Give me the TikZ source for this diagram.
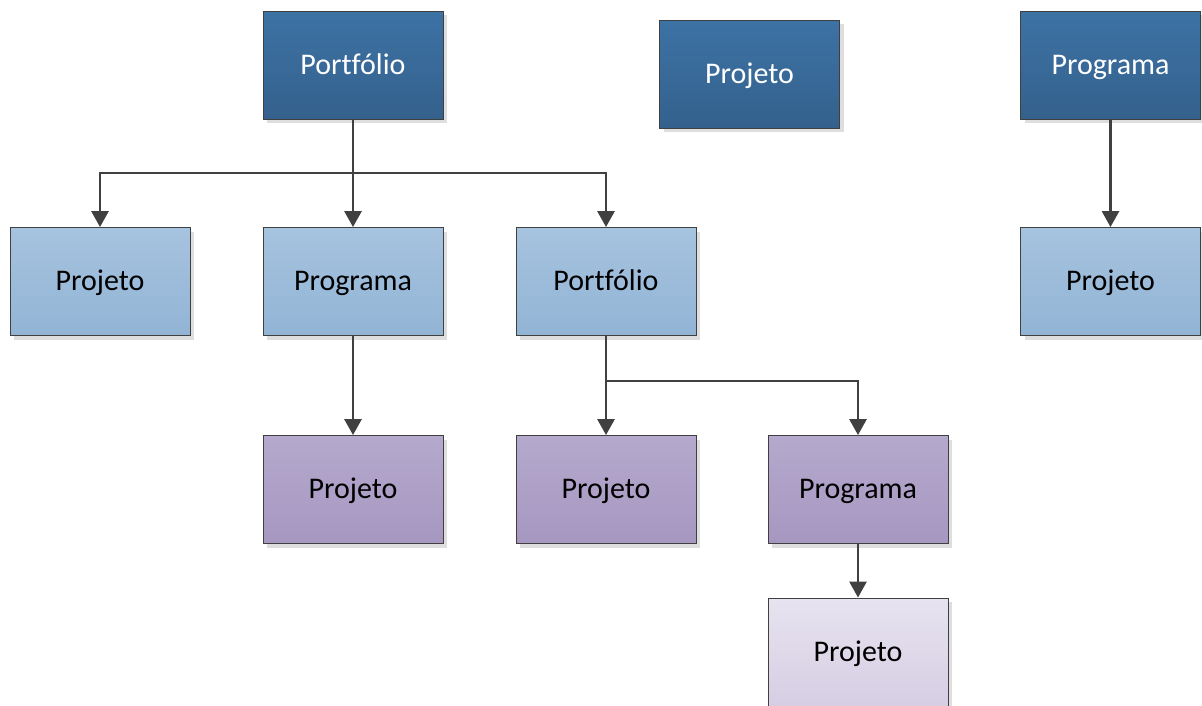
\documentclass[tikz,border=0pt]{standalone}
\usepackage{fontspec}
\setmainfont{Carlito}[Ligatures={NoCommon}]
\usetikzlibrary{arrows.meta,shadows}
\definecolor{edge}{HTML}{404040}
\definecolor{darkA}{HTML}{3D72A5}
\definecolor{darkB}{HTML}{34618C}
\definecolor{lightA}{HTML}{A6C3DF}
\definecolor{lightB}{HTML}{92B4D5}
\definecolor{purpA}{HTML}{B5A9CD}
\definecolor{purpB}{HTML}{A697C0}
\definecolor{paleA}{HTML}{E7E3F0}
\definecolor{paleB}{HTML}{D6CEE3}
\tikzset{
  box/.style={draw=edge, line width=0.9pt, minimum width=180pt, minimum height=108pt,
    inner sep=0pt, font=\fontsize{30}{36}\selectfont, text height=22pt, text depth=4pt,
    drop shadow={shadow xshift=4pt, shadow yshift=-4pt, fill=black!13, opacity=1}},
  lvlA/.style={box, top color=darkA, bottom color=darkB, text=white},
  lvlB/.style={box, top color=lightA, bottom color=lightB, text=black},
  lvlC/.style={box, top color=purpA, bottom color=purpB, text=black},
  lvlD/.style={box, top color=paleA, bottom color=paleB, text=black},
  link/.style={draw=edge, line width=2.8pt, -{Triangle[width=17pt,length=16pt]}},
  trunk/.style={draw=edge, line width=2.8pt}
}
\begin{document}
\begin{tikzpicture}[x=1pt,y=-1pt]
\useasboundingbox[fill=white] (0,0) rectangle (1202,705);
% top level
\node[lvlA] (pf) at (353,65) {Portfólio};
\node[lvlA] (pj) at (749.5,74) {Projeto};
\node[lvlA] (pg) at (1110.5,65) {Programa};
% second level
\node[lvlB] (pf1) at (100,281.5) {Projeto};
\node[lvlB] (pf2) at (353,281.5) {Programa};
\node[lvlB] (pf3) at (606,281.5) {Portfólio};
\node[lvlB] (pg1) at (1110.5,281.5) {Projeto};
% third level
\node[lvlC] (pf2a) at (353,489.5) {Projeto};
\node[lvlC] (pf3a) at (606,489.5) {Projeto};
\node[lvlC] (pf3b) at (858,489.5) {Programa};
% fourth level
\node[lvlD] (pf3b1) at (858,652) {Projeto};
% connectors
\coordinate (j1) at (353,173);
\coordinate (j2) at (606,381);
\draw[trunk] (pf.south) -- (j1);
\draw[link] (j1) -| (pf1.north);
\draw[link] (j1) -- (pf2.north);
\draw[link] (j1) -| (pf3.north);
\draw[link] (pf2.south) -- (pf2a.north);
\draw[trunk] (pf3.south) -- (j2);
\draw[link] (j2) -- (pf3a.north);
\draw[link] (j2) -| (pf3b.north);
\draw[link] (pf3b.south) -- (pf3b1.north);
\draw[link] (pg.south) -- (pg1.north);
\end{tikzpicture}
\end{document}
